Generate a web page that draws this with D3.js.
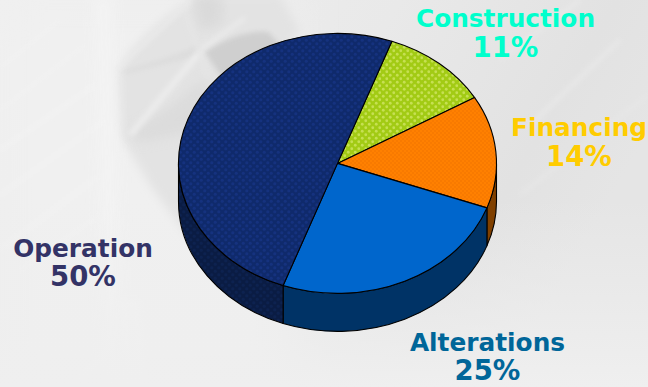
<!DOCTYPE html>
<html>
<head>
<meta charset="utf-8">
<title>Cost breakdown</title>
<script src="https://cdn.jsdelivr.net/npm/d3@7"></script>
<style>
  html, body { margin: 0; padding: 0; background: #ececec; overflow: hidden; }
  svg { display: block; }
  text { font-family: "DejaVu Sans", Verdana, sans-serif; font-weight: bold; text-anchor: middle; }
</style>
</head>
<body>
<svg id="chart" width="648" height="387"></svg>
<script>
// Share of lifetime cost per phase, clockwise from the Construction slice
const categories = ["Construction", "Financing", "Alterations", "Operation"];
const shares = [11, 14, 25, 50];
const topFills = ["url(#dotsLime)", "url(#dotsOrange)", "#0066cc", "url(#dotsNavy)"];
const wallFills = ["#5a7a00", "#804000", "#003366", "url(#dotsNavyWall)"];
const labelColors = ["#00ffcc", "#ffcc00", "#006699", "#333366"];
const labelAnchors = [[505.5, 27, 57], [579, 136, 166], [487.5, 351, 380], [83, 257, 286]];

// Soft backdrop shapes: [path, fill, opacity, blur filter]
const backdropShapes = [
  ["M0 0H290V387H0Z", "#f0f0f0", 1, "b8"],
  ["M116 72C140 35 170 12 200 -5L280 -5L300 30L230 120L190 240L150 185L120 135Z", "#e3e3e3", 1, "b4"],
  ["M192 -5L222 -5L222 24L200 30Z", "#d6d6d6", 0.7, "b5"],
  ["M205 52C225 38 250 30 268 32L285 50L222 78Z", "#cdcdcd", 0.9, "b3"],
  ["M120 72C150 62 180 55 200 44L196 56L165 64L125 74Z", "#d4d4d4", 0.45, "b3"],
  ["M128 132C150 120 175 105 190 90L208 78L200 130L140 142Z", "#d4d4d4", 0.5, "b5"],
  ["M92 -5H114L124 387H104Z", "#f3f3f3", 0.9, "b5"],
  ["M125 385H145L140 300H120Z", "#f4f4f4", 0.6, "b3"]
];
// Faint diagonal streaks: [x1, y1, x2, y2, stroke width, colour]
const streaks = [
  [0, 68, 60, 20, 1, "#f6f6f6"], [0, 110, 85, 45, 1, "#f6f6f6"],
  [0, 150, 95, 85, 1.5, "#f7f7f7"], [0, 195, 105, 120, 1.5, "#f6f6f6"],
  [0, 250, 100, 175, 1.5, "#f5f5f5"], [20, 270, 100, 215, 1.5, "#f4f4f4"],
  [116, 70, 190, 2, 3, "#ececec"], [130, 135, 200, 52, 6, "#ececec"],
  [200, 50, 245, 18, 3, "#ededed"], [183, 5, 208, 78, 3, "#e6e6e6"],
  [530, 125, 620, 40, 4, "#e8e8e8"], [500, 60, 580, 0, 4, "#e8e8e8"],
  [520, 195, 648, 95, 3, "#e7e7e7"], [70, 387, 110, 350, 4, "#f4f4f4"]
];

const svg = d3.select("#chart");
const defs = svg.append("defs");

// Backdrop blurs
[["b3", 2.5], ["b4", 5], ["b5", 6], ["b8", 20]].forEach(([id, sd]) => {
  defs.append("filter").attr("id", id)
    .attr("x", "-30%").attr("y", "-30%").attr("width", "160%").attr("height", "160%")
    .append("feGaussianBlur").attr("stdDeviation", sd);
});

const baseGradient = defs.append("linearGradient").attr("id", "paper")
  .attr("x1", 0).attr("y1", 0).attr("x2", 1).attr("y2", 0.35);
baseGradient.append("stop").attr("offset", 0).attr("stop-color", "#f0f0f0");
baseGradient.append("stop").attr("offset", 0.55).attr("stop-color", "#e9e9e9");
baseGradient.append("stop").attr("offset", 0.85).attr("stop-color", "#e2e2e2");
baseGradient.append("stop").attr("offset", 1).attr("stop-color", "#e5e5e5");
const floorGradient = defs.append("linearGradient").attr("id", "floor")
  .attr("x1", 0).attr("y1", 0).attr("x2", 0).attr("y2", 1);
floorGradient.append("stop").attr("offset", 0).attr("stop-color", "#eeeeee").attr("stop-opacity", 0);
floorGradient.append("stop").attr("offset", 1).attr("stop-color", "#efefef").attr("stop-opacity", 1);

// Dotted surface textures
function dotPattern(id, size, base, dot, radius) {
  const p = defs.append("pattern").attr("id", id).attr("patternUnits", "userSpaceOnUse")
    .attr("width", size).attr("height", size);
  p.append("rect").attr("width", size).attr("height", size).attr("fill", base);
  [[size / 4, size / 4], [3 * size / 4, 3 * size / 4]].forEach(([cx, cy]) => {
    p.append("circle").attr("cx", cx).attr("cy", cy).attr("r", radius).attr("fill", dot);
  });
}
dotPattern("dotsNavy", 7, "#0f2a6c", "#15327f", 1.5);
dotPattern("dotsNavyWall", 7, "#0a1c44", "#0d2250", 1.5);
dotPattern("dotsLime", 7, "#a2cb14", "#c6e052", 1.4);
dotPattern("dotsOrange", 4, "#ff8000", "#f57700", 0.9);

// Backdrop
const backdrop = svg.append("g");
backdrop.append("rect").attr("width", 648).attr("height", 387).attr("fill", "url(#paper)");
backdrop.selectAll("path.shape").data(backdropShapes).join("path")
  .attr("class", "shape")
  .attr("d", d => d[0]).attr("fill", d => d[1])
  .attr("opacity", d => d[2]).attr("filter", d => `url(#${d[3]})`);
backdrop.selectAll("line").data(streaks).join("line")
  .attr("x1", d => d[0]).attr("y1", d => d[1]).attr("x2", d => d[2]).attr("y2", d => d[3])
  .attr("stroke-width", d => d[4]).attr("stroke", d => d[5]).attr("filter", "url(#b3)");
backdrop.append("rect").attr("y", 200).attr("width", 648).attr("height", 187).attr("fill", "url(#floor)");

// Tilted pie geometry
const cx = 337.5, cy = 163.4, rx = 159, ry = 130, depth = 38;
const startAngle = 20 * Math.PI / 180;
const slices = d3.pie().sort(null).value(d => d)
  .startAngle(startAngle).endAngle(startAngle + 2 * Math.PI)(shares);

const edgeX = d3.scaleLinear().domain([-1, 1]).range([cx - rx, cx + rx]);
const edgeY = d3.scaleLinear().domain([-1, 1]).range([cy - ry, cy + ry]);
const pointAt = a => [edgeX(Math.sin(a)), edgeY(-Math.cos(a))];

function topPath(s) {
  const [x0, y0] = pointAt(s.startAngle), [x1, y1] = pointAt(s.endAngle);
  const large = s.endAngle - s.startAngle > Math.PI ? 1 : 0;
  return `M${cx} ${cy}L${x0} ${y0}A${rx} ${ry} 0 ${large} 1 ${x1} ${y1}Z`;
}
// Only the front half of the rim (3 o'clock round to 9 o'clock) is visible
function wallPath(s) {
  const a0 = Math.max(s.startAngle, Math.PI / 2), a1 = Math.min(s.endAngle, 3 * Math.PI / 2);
  if (a1 <= a0) return null;
  const [x0, y0] = pointAt(a0), [x1, y1] = pointAt(a1);
  return `M${x0} ${y0}A${rx} ${ry} 0 0 1 ${x1} ${y1}L${x1} ${y1 + depth}` +
         `A${rx} ${ry} 0 0 0 ${x0} ${y0 + depth}Z`;
}

const pie = svg.append("g").attr("stroke", "#000").attr("stroke-width", 1.1).attr("stroke-linejoin", "round");
pie.selectAll("path.wall").data(slices.filter(wallPath)).join("path")
  .attr("class", "wall").attr("d", wallPath).attr("fill", d => wallFills[d.index]);
pie.selectAll("path.top").data(slices).join("path")
  .attr("class", "top").attr("d", topPath).attr("fill", d => topFills[d.index]);

// Category names with their percentages beneath, the figures set a little larger
const labels = svg.append("g");
categories.forEach((name, i) => {
  const [x, y0, y1] = labelAnchors[i];
  labels.append("text").attr("x", x).attr("y", y0).attr("font-size", 24.8)
    .attr("fill", labelColors[i]).text(name);
  labels.append("text").attr("x", x).attr("y", y1).attr("font-size", 27.5)
    .attr("fill", labelColors[i]).text(shares[i] + "%");
});
</script>
</body>
</html>
